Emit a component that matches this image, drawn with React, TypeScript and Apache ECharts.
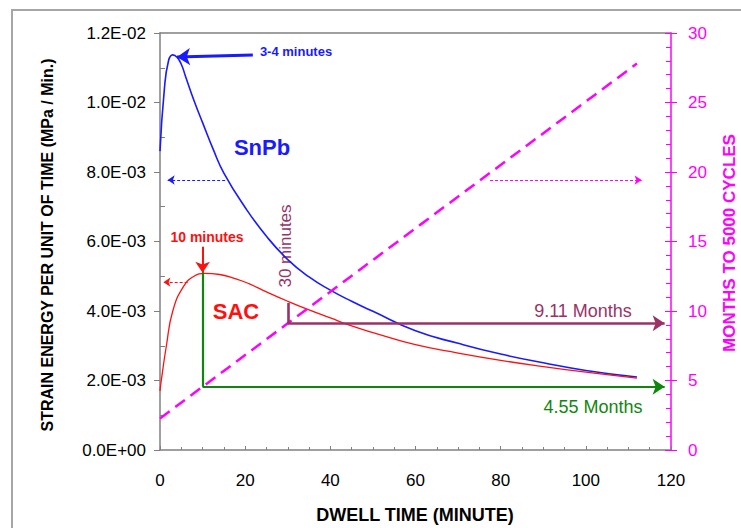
import React, { useEffect, useRef } from "react";
import * as echarts from "echarts";

// ---- tick labels ----
const xTickLabels = ["0", "20", "40", "60", "80", "100", "120"];
const leftTickLabels = ["0.0E+00", "2.0E-03", "4.0E-03", "6.0E-03", "8.0E-03", "1.0E-02", "1.2E-02"];
const rightTickLabels = ["0", "5", "10", "15", "20", "25", "30"];

// ---- SnPb strain energy per unit of time ----
const snpbTime = [0, 1, 2, 3, 4, 5, 6, 8, 10, 12.5, 15, 20, 25, 30, 35, 40, 45, 50, 60, 70, 80, 90, 100, 112];
const snpbEnergy = [
  0.0086, 0.01035, 0.0112, 0.01137, 0.0113, 0.0111, 0.01075, 0.01005, 0.00942, 0.00865,
  0.00797, 0.00698, 0.00615, 0.00548, 0.00498, 0.0046, 0.00428, 0.00399, 0.00343, 0.00307,
  0.00276, 0.00251, 0.00229, 0.0021,
];

// ---- SAC strain energy per unit of time ----
const sacTime = [0, 0.3, 1.5, 3, 5.5, 8, 10.5, 14, 18, 21, 25, 30, 35, 40, 45, 50, 60, 70, 80, 90, 100, 112];
const sacEnergy = [
  0.0017, 0.002, 0.003, 0.004, 0.0047, 0.005, 0.00508, 0.00505, 0.00492, 0.00478,
  0.00455, 0.00428, 0.00403, 0.0038, 0.00357, 0.00338, 0.00303, 0.00279, 0.00258, 0.0024,
  0.00224, 0.00207,
];

// ---- months to 5000 cycles ----
const monthsTime = [0, 10, 30, 112];
const monthsValue = [2.27, 4.55, 9.11, 27.8];

// ---- annotation segments (data units) ----
const snpbPeakArrow = [[21.8, 0.01137], [4, 0.01131]];
const snpbLevelArrow = [[15.3, 0.00777], [1.8, 0.00777]];
const sacPeakArrow = [[10, 0.00585], [10, 0.0051]];
const sacLevelArrow = [[6.5, 0.00483], [0.8, 0.00483]];
const monthsLevelArrow = [[77.5, 19.42], [113.1, 19.42]];
const sac10Vertical = [[10, 12.8], [10, 4.55]];
const sac10Arrow = [[10, 4.55], [118.5, 4.55]];
const snpb30Vertical = [[30, 10.58], [30, 9.11]];
const snpb30Arrow = [[30, 9.11], [118.5, 9.11]];

const FONT = '"Liberation Sans", Arial, sans-serif';
const BLUE = "#1a1aff";
const RED = "#ff1010";
const GREEN = "#0f870f";
const PURPLE = "#993366";
const MAGENTA = "#ff00ff";
const AXIS_GREY = "#808080";

const seg = (pts: number[][], endSymbol?: string) => [
  { coord: pts[0] },
  endSymbol ? { coord: pts[1], symbol: endSymbol } : { coord: pts[1] },
];

const annotSeries = (
  name: string,
  yAxisIndex: number,
  color: string,
  width: number,
  type: any,
  size: number,
  data: any[]
) => ({
  type: "line",
  name,
  xAxisIndex: 0,
  yAxisIndex,
  data: [],
  silent: true,
  markLine: {
    silent: true,
    animation: false,
    symbol: ["none", "arrow"],
    symbolSize: size,
    label: { show: false },
    emphasis: { disabled: true },
    lineStyle: { color, width, type },
    data,
  },
});

const txt = (
  text: string,
  x: number,
  y: number,
  font: string,
  fill: string,
  rotation = 0
) => ({
  type: "text",
  x,
  y,
  rotation,
  silent: true,
  style: {
    text,
    font,
    fill,
    align: "center",
    verticalAlign: "middle",
    textAlign: "center",
    textVerticalAlign: "middle",
  },
});

export default function App() {
  const ref = useRef<HTMLDivElement>(null);

  useEffect(() => {
    if (!ref.current) return;
    const chart = echarts.init(ref.current, null, { renderer: "svg" });

    const option: any = {
      animation: false,
      backgroundColor: "#ffffff",
      grid: { left: 160, right: 70, top: 33, bottom: 78 },
      xAxis: [
        {
          type: "value",
          min: 0,
          max: 120,
          interval: 20,
          position: "bottom",
          axisLine: { show: true, onZero: false, lineStyle: { color: AXIS_GREY, width: 1.5 } },
          axisTick: { show: true, inside: true, length: 4, lineStyle: { color: AXIS_GREY } },
          minorTick: { show: true, splitNumber: 4, length: 3, lineStyle: { color: AXIS_GREY } },
          axisLabel: {
            margin: 22,
            color: "#000",
            fontSize: 17,
            fontFamily: FONT,
            formatter: (v: number) => xTickLabels[Math.round(v / 20)] ?? "",
          },
          splitLine: { show: false },
        },
        {
          type: "value",
          min: 0,
          max: 120,
          position: "top",
          axisLine: { show: true, onZero: false, lineStyle: { color: AXIS_GREY, width: 1.5 } },
          axisTick: { show: false },
          axisLabel: { show: false },
          splitLine: { show: false },
        },
      ],
      yAxis: [
        {
          type: "value",
          min: 0,
          max: 0.012,
          interval: 0.002,
          position: "left",
          axisLine: { show: true, onZero: false, lineStyle: { color: AXIS_GREY, width: 1.5 } },
          axisTick: { show: true, length: 6, lineStyle: { color: AXIS_GREY } },
          axisLabel: {
            margin: 14,
            color: "#000",
            fontSize: 17,
            fontFamily: FONT,
            formatter: (v: number) => leftTickLabels[Math.round(v / 0.002)] ?? "",
          },
          splitLine: { show: false },
        },
        {
          type: "value",
          min: 0,
          max: 30,
          interval: 5,
          position: "right",
          axisLine: { show: true, onZero: false, lineStyle: { color: MAGENTA, width: 1.5 } },
          axisTick: { show: true, inside: true, length: 6, lineStyle: { color: MAGENTA } },
          minorTick: { show: true, splitNumber: 5, length: 5, lineStyle: { color: MAGENTA } },
          axisLabel: {
            margin: 17,
            color: MAGENTA,
            fontSize: 17,
            fontFamily: FONT,
            formatter: (v: number) => rightTickLabels[Math.round(v / 5)] ?? "",
          },
          splitLine: { show: false },
        },
        {
          type: "value",
          min: 0,
          max: 30,
          interval: 5,
          position: "right",
          axisLine: { show: false, onZero: false },
          axisTick: { show: true, inside: false, length: 6, lineStyle: { color: MAGENTA } },
          axisLabel: { show: false },
          splitLine: { show: false },
        },
        {
          type: "value",
          min: 0,
          max: 0.012,
          interval: 0.002,
          position: "left",
          axisLine: { show: false, onZero: false },
          axisTick: { show: false, inside: true },
          minorTick: { show: true, splitNumber: 2, length: 5, lineStyle: { color: AXIS_GREY } },
          axisLabel: { show: false },
          splitLine: { show: false },
        },
      ],
      series: [
        {
          type: "line",
          name: "SnPb",
          xAxisIndex: 0,
          yAxisIndex: 0,
          data: snpbTime.map((t, i) => [t, snpbEnergy[i]]),
          smooth: 0.5,
          showSymbol: false,
          symbol: "none",
          silent: true,
          lineStyle: { color: BLUE, width: 1.6 },
        },
        {
          type: "line",
          name: "SAC",
          xAxisIndex: 0,
          yAxisIndex: 0,
          data: sacTime.map((t, i) => [t, sacEnergy[i]]),
          smooth: 0.5,
          showSymbol: false,
          symbol: "none",
          silent: true,
          lineStyle: { color: RED, width: 1.3 },
        },
        {
          type: "line",
          name: "Months",
          xAxisIndex: 0,
          yAxisIndex: 1,
          data: monthsTime.map((t, i) => [t, monthsValue[i]]),
          showSymbol: false,
          symbol: "none",
          silent: true,
          lineStyle: { color: MAGENTA, width: 2.5, type: [12, 7] },
        },
        annotSeries("snpbPeak", 0, BLUE, 3, "solid", 13, [seg(snpbPeakArrow)]),
        annotSeries("snpbLevel", 0, BLUE, 1, [3, 2], 7, [seg(snpbLevelArrow)]),
        annotSeries("sacPeak", 0, RED, 2, "solid", 11, [seg(sacPeakArrow)]),
        annotSeries("sacLevel", 0, RED, 1, [3, 2], 7, [seg(sacLevelArrow)]),
        annotSeries("monthsLevel", 1, MAGENTA, 1.2, [3, 2], 7, [seg(monthsLevelArrow)]),
        annotSeries("green", 1, GREEN, 2.2, "solid", 12, [seg(sac10Vertical, "none"), seg(sac10Arrow)]),
        annotSeries("purple", 1, PURPLE, 2.6, "solid", 12, [seg(snpb30Vertical, "none"), seg(snpb30Arrow)]),
      ],
      graphic: [
        {
          type: "rect",
          silent: true,
          z: -10,
          shape: { x: 12, y: 10, width: 800, height: 600 },
          style: { fill: "none", stroke: "#a6a6a6", lineWidth: 2 },
        },
        txt("3-4 minutes", 296, 51, `bold 13px ${FONT}`, BLUE),
        txt("SnPb", 262, 147, `bold 22px ${FONT}`, BLUE),
        txt("10 minutes", 207, 237, `bold 14px ${FONT}`, RED),
        txt("SAC", 236, 311, `bold 22px ${FONT}`, RED),
        txt("30 minutes", 285, 246, `17px ${FONT}`, PURPLE, Math.PI / 2),
        txt("9.11 Months", 583, 311, `18px ${FONT}`, PURPLE),
        txt("4.55 Months", 593, 407, `18px ${FONT}`, GREEN),
        txt("STRAIN ENERGY PER UNIT OF TIME (MPa / Min.)", 47, 245, `bold 16px ${FONT}`, "#000", Math.PI / 2),
        txt("MONTHS TO 5000 CYCLES", 729, 243, `bold 17px ${FONT}`, MAGENTA, Math.PI / 2),
        txt("DWELL TIME (MINUTE)", 415, 515, `bold 18px ${FONT}`, "#000"),
      ],
    };

    chart.setOption(option);
    return () => chart.dispose();
  }, []);

  return (
    <div
      ref={ref}
      style={{ position: "fixed", left: 0, top: 0, width: 741, height: 528, background: "#fff" }}
    />
  );
}
